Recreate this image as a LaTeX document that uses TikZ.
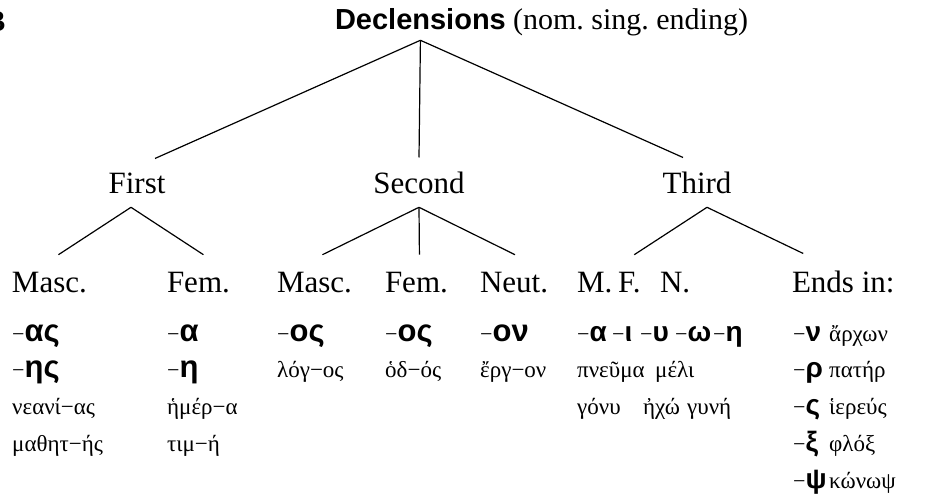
\documentclass[tikz,border=0pt]{standalone}
\usepackage{fontspec}
\setmainfont{Liberation Serif}
\newfontfamily\headfont{Liberation Sans}
\newfontfamily\grbold{Liberation Sans}
\newfontfamily\minusfont{Liberation Serif}
\newcommand{\mn}{{\minusfont\mdseries\fontsize{22}{26}\selectfont −}}
\frenchspacing

\tikzset{
    root/.style={anchor=base west, inner sep=0pt, outer xsep=0pt, outer ysep=11pt,
        font=\headfont\bfseries\fontsize{29}{34}\selectfont},
    lvl/.style={anchor=base, inner sep=0pt, outer xsep=0pt, outer ysep=14pt,
        font=\fontsize{31}{36}\selectfont},
    lab/.style={anchor=base west, inner sep=0pt, outer xsep=0pt, outer ysep=17pt,
        font=\fontsize{31}{36}\selectfont},
    sfx/.style={anchor=base west, inner sep=0pt, font=\grbold\bfseries\fontsize{31}{36}\selectfont},
    sfxs/.style={sfx, font=\grbold\bfseries\fontsize{28}{33}\selectfont},
    word/.style={anchor=base west, inner sep=0pt, font=\fontsize{23}{27}\selectfont},
    branch/.style={line width=1.2pt}
}

\begin{document}
\begin{tikzpicture}[x=1pt, y=-1pt]
        \useasboundingbox (0,0) rectangle (926,493);

        \node[anchor=base east, inner sep=0pt, font=\headfont\bfseries\fontsize{29}{34}\selectfont] (panel) at (6,31) {B};
        \node[root] (decl) at (335,29) {Declensions};
        \node[anchor=base west, inner sep=0pt, font=\fontsize{30}{34}\selectfont] (nom) at ([xshift=7pt]decl.base east) {(nom. sing. ending)};

        \node[lvl] (first) at (137,193) {First};
        \node[lvl] (second) at (419,193) {Second};
        \node[lvl] (third) at (697,193) {Third};

        \draw [branch] (decl.south) -- ([xshift=18pt]first.north);
        \draw [branch] (decl.south) -- (second.north);
        \draw [branch] (decl.south) -- ([xshift=-14pt]third.north);

        \node[lab] (masc1) at (12,292) {Masc.};
        \node[lab] (fem1) at (167,292) {Fem.};
        \node[lab] (masc2) at (277,292) {Masc.};
        \node[lab] (fem2) at (385,292) {Fem.};
        \node[lab] (neut2) at (480,292) {Neut.};
        \node[lab] (m3) at (577,292) {M.};
        \node[lab] (f3) at (618,292) {F.};
        \node[lab] (n3) at (660,292) {N.};
        \node[lab] (ends3) at (792,292) {Ends in:};

        \draw [branch] ([xshift=-6pt]first.south) -- ([xshift=9pt]masc1.north);
        \draw [branch] ([xshift=-6pt]first.south) -- ([xshift=5pt]fem1.north);
        \draw [branch] (second.south) -- ([xshift=8pt]masc2.north);
        \draw [branch] (second.south) -- ([xshift=3pt]fem2.north);
        \draw [branch] (second.south) -- ([xshift=1pt]neut2.north);
        \draw [branch] ([xshift=10pt]third.south) -- ([xshift=5pt]f3.north);
        \draw [branch] ([xshift=10pt]third.south) -- ([xshift=-40pt]ends3.north);

        % first declension
        \node[sfx] (as1) at (12,341) {\mn ας};
        \node[sfx] (es1) at (12,377) {\mn ης};
        \node[word] (neanias) at (12,414) {νεανί−ας};
        \node[word] (mathetes) at (12,451) {μαθητ−ής};
        \node[sfx] (a1) at (167,341) {\mn α};
        \node[sfx] (e1) at (167,377) {\mn η};
        \node[word] (hemera) at (167,414) {ἡμέρ−α};
        \node[word] (time) at (167,451) {τιμ−ή};

        % second declension
        \node[sfx] (os2) at (277,341) {\mn ος};
        \node[word] (logos) at (277,377) {λόγ−ος};
        \node[sfx] (osf2) at (385,341) {\mn ος};
        \node[word] (hodos) at (385,377) {ὁδ−ός};
        \node[sfx] (on2) at (480,341) {\mn ον};
        \node[word] (ergon) at (480,377) {ἔργ−ον};

        % third declension
        \foreach \x/\g [count=\i] in {577/α, 612/ι, 640/υ, 675/ω, 713/η}
            \node[sfxs] (t\i) at (\x,341) {\mn \g};
        \node[word] (pneuma) at (577,377) {πνεῦμα};
        \node[word] (meli) at (655,377) {μέλι};
        \node[word] (gonu) at (577,414) {γόνυ};
        \node[word] (echo) at (643,414) {ἠχώ};
        \node[word] (gune) at (687,414) {γυνή};

        \foreach \g/\w [count=\i] in {ν/ἄρχων, ρ/πατήρ, ς/ἱερεύς, ξ/φλόξ, ψ/κώνωψ} {
            \node[sfxs] (e\i) at (793,{341+36.75*(\i-1)}) {\mn \g};
            \node[word] (w\i) at (829,{341+36.75*(\i-1)}) {\w};
        }
\end{tikzpicture}
\end{document}
